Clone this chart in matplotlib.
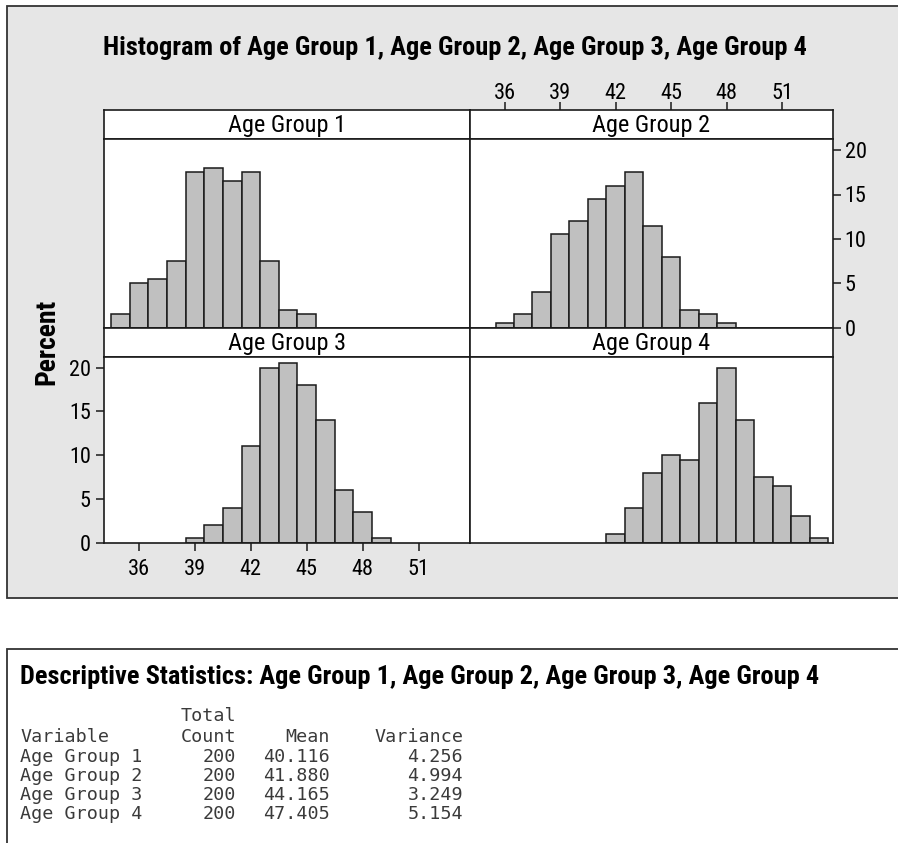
import matplotlib
matplotlib.use("Agg")
import matplotlib.pyplot as plt
from matplotlib.patches import Rectangle
import numpy as np

# Data (percent of 200 per 1-year bin, bins centred on integers)
groups = ["Age Group 1", "Age Group 2", "Age Group 3", "Age Group 4"]
bins_1 = [35, 36, 37, 38, 39, 40, 41, 42, 43, 44, 45]
pct_1 = [1.5, 5.0, 5.5, 7.5, 17.5, 18.0, 16.5, 17.5, 7.5, 2.0, 1.5]
bins_2 = [36, 37, 38, 39, 40, 41, 42, 43, 44, 45, 46, 47, 48]
pct_2 = [0.5, 1.5, 4.0, 10.5, 12.0, 14.5, 16.0, 17.5, 11.5, 8.0, 2.0, 1.5, 0.5]
bins_3 = [39, 40, 41, 42, 43, 44, 45, 46, 47, 48, 49]
pct_3 = [0.5, 2.0, 4.0, 11.0, 20.0, 20.5, 18.0, 14.0, 6.0, 3.5, 0.5]
bins_4 = [42, 43, 44, 45, 46, 47, 48, 49, 50, 51, 52, 53]
pct_4 = [1.0, 4.0, 8.0, 10.0, 9.5, 16.0, 20.0, 14.0, 7.5, 6.5, 3.0, 0.5]

x_ticks = [36, 39, 42, 45, 48, 51]
y_ticks = [0, 5, 10, 15, 20]

# descriptive statistics table
counts = [200, 200, 200, 200]
means = [40.116, 41.880, 44.165, 47.405]
variances = [4.256, 4.994, 3.249, 5.154]

W, H = 898, 843
cond = ["Roboto Condensed", "DejaVu Sans"]
mono = ["DejaVu Sans Mono"]
edge = "#1a1a1a"

fig = plt.figure(figsize=(W / 100, H / 100), dpi=100)
fig.patch.set_facecolor("white")


def px(x0, y0, x1, y1):
    # pixel box (top-left origin) -> figure fraction rect
    return [x0 / W, 1 - y1 / H, (x1 - x0) / W, (y1 - y0) / H]


def ctext(x, y, s, **kw):
    kw.setdefault("family", cond)
    kw.setdefault("fontstretch", "condensed")
    return fig.text(x / W, 1 - y / H, s, **kw)


# grey background box for the graph, white box for the session output
fig.add_artist(Rectangle((7 / W, 1 - 598 / H), 1.0, (598 - 6) / H, transform=fig.transFigure,
                         facecolor="#e6e6e6", edgecolor="#333333", lw=1.3, zorder=0))
fig.add_artist(Rectangle((7 / W, -0.05), 1.0, (1 - 649 / H) + 0.05, transform=fig.transFigure,
                         facecolor="white", edgecolor="#333333", lw=1.3, zorder=0))

ctext(103, 55, "Histogram of Age Group 1, Age Group 2, Age Group 3, Age Group 4",
      weight="bold", fontsize=19, ha="left", va="baseline")
ctext(47, 342, "Percent", weight="bold", fontsize=20, rotation=90, ha="center", va="center")

xl, xm, xr = 104, 470, 833
yt, ys1, yb1, ys2, yb2 = 110, 139, 327.7, 356.7, 542.7
xlim = (34.12, 53.76)
ylim = (0, 21.25)

panels = [
    (bins_1, pct_1, (xl, xm), (yt, ys1, yb1)),
    (bins_2, pct_2, (xm, xr), (yt, ys1, yb1)),
    (bins_3, pct_3, (xl, xm), (yb1, ys2, yb2)),
    (bins_4, pct_4, (xm, xr), (yb1, ys2, yb2)),
]

for i, (b, p, (x0, x1), (s0, s1, p1)) in enumerate(panels):
    strip = fig.add_axes(px(x0, s0, x1, s1))
    strip.set_facecolor("white")
    strip.set_xlim(xlim)
    strip.set_yticks([])
    strip.set_xticks([])
    strip.text(0.5, 0.47, groups[i], transform=strip.transAxes, ha="center", va="center",
               family=cond, fontstretch="condensed", fontsize=17.5)

    ax = fig.add_axes(px(x0, s1, x1, p1))
    ax.set_facecolor("white")
    ax.bar(b, p, width=1.0, color="#c0c0c0", edgecolor=edge, lw=1.1, zorder=2)
    ax.set_xlim(xlim)
    ax.set_ylim(ylim)
    ax.set_xticks([])
    ax.set_yticks([])

    for a in (strip, ax):
        for s in a.spines.values():
            s.set_color(edge)
            s.set_linewidth(1.2)

    if i == 1:
        # x scale drawn above the top-right strip, y scale on the right
        strip.set_xticks(x_ticks)
        strip.xaxis.tick_top()
        strip.tick_params(axis="x", pad=-1.5)
        ax.set_yticks(y_ticks)
        ax.yaxis.tick_right()
        ax.tick_params(axis="y", pad=3)
    if i == 2:
        ax.set_xticks(x_ticks)
        ax.set_yticks(y_ticks)
        ax.tick_params(axis="x", pad=6)
        ax.tick_params(axis="y", pad=4)
    for a in (strip, ax):
        a.tick_params(length=5.5, width=1.1, color=edge, labelsize=16)
        for lab in a.get_xticklabels() + a.get_yticklabels():
            lab.set_family(cond)
            lab.set_stretch("condensed")

ctext(20, 684, "Descriptive Statistics: Age Group 1, Age Group 2, Age Group 3, Age Group 4",
      weight="bold", fontsize=19, ha="left", va="baseline")

tc = "#3a3a3a"
fs = 13.2
row_y = [716, 737, 757, 776, 795, 814]
fig.text(20 / W, 1 - row_y[1] / H, "Variable", family=mono, fontsize=fs, color=tc, va="center")
fig.text(236 / W, 1 - row_y[0] / H, "Total", family=mono, fontsize=fs, color=tc, va="center", ha="right")
fig.text(236 / W, 1 - row_y[1] / H, "Count", family=mono, fontsize=fs, color=tc, va="center", ha="right")
fig.text(330 / W, 1 - row_y[1] / H, "Mean", family=mono, fontsize=fs, color=tc, va="center", ha="right")
fig.text(463 / W, 1 - row_y[1] / H, "Variance", family=mono, fontsize=fs, color=tc, va="center", ha="right")
for k in range(4):
    yy = 1 - row_y[k + 2] / H
    fig.text(20 / W, yy, groups[k], family=mono, fontsize=fs, color=tc, va="center")
    fig.text(236 / W, yy, str(counts[k]), family=mono, fontsize=fs, color=tc, va="center", ha="right")
    fig.text(330 / W, yy, f"{means[k]:.3f}", family=mono, fontsize=fs, color=tc, va="center", ha="right")
    fig.text(463 / W, yy, f"{variances[k]:.3f}", family=mono, fontsize=fs, color=tc, va="center", ha="right")

fig.savefig("out.png", dpi=100)
